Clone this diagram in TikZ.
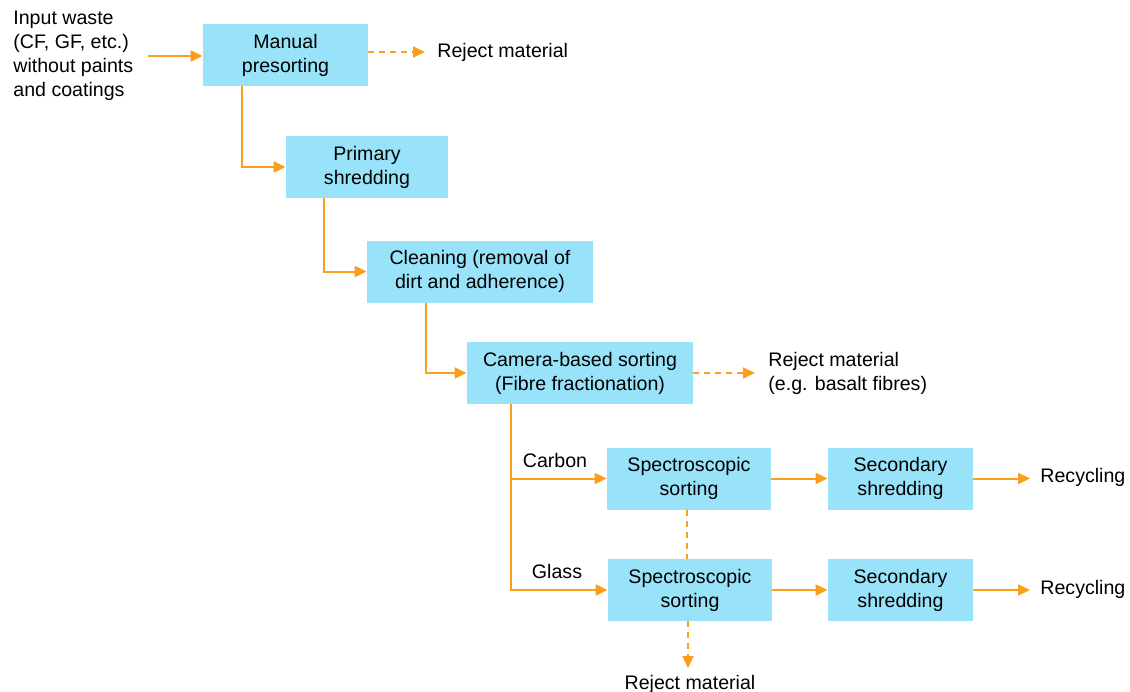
\documentclass[tikz,border=0pt]{standalone}
\usepackage{fontspec}
\setmainfont{Liberation Sans}
\usetikzlibrary{arrows.meta,calc}
\definecolor{boxblue}{RGB}{153,227,250}
\definecolor{flowor}{RGB}{250,158,28}
\begin{document}
\begin{tikzpicture}[x=0.5pt,y=-0.5pt,
  every node/.style={font=\fontsize{9.8}{12}\selectfont, text=black},
  procbox/.style={fill=boxblue, draw=none, align=center, inner sep=0pt, minimum height=31pt},
  lbl/.style={inner sep=0pt, align=left},
  flow/.style={draw=flowor, line width=1pt, -{Triangle[length=6pt,width=5.5pt]}},
  rejflow/.style={draw=flowor, line width=0.9pt, dash pattern=on 3pt off 2.5pt, -{Triangle[length=6pt,width=5.5pt]}},
  rejline/.style={draw=flowor, line width=0.9pt, dash pattern=on 3pt off 2.5pt}]
\useasboundingbox (0,0) rectangle (1130,691);

% process boxes
\node[procbox, minimum width=82.5pt] (manual) at (285.5,55) {Manual\\presorting};
\node[procbox, minimum width=81pt] (primary) at (367,167) {Primary\\shredding};
\node[procbox, minimum width=113pt] (clean) at (480,271.5) {Cleaning (removal of\\dirt and adherence)};
\node[procbox, minimum width=113pt] (camera) at (580,373) {Camera-based sorting\\(Fibre fractionation)};
\node[procbox, minimum width=82pt] (spec1) at (689,478.5) {Spectroscopic\\sorting};
\node[procbox, minimum width=72.5pt] (sec1) at (900.5,478.5) {Secondary\\shredding};
\node[procbox, minimum width=82pt] (spec2) at (690,590) {Spectroscopic\\sorting};
\node[procbox, minimum width=72.5pt] (sec2) at (900.5,590) {Secondary\\shredding};

% text labels
\node[lbl, anchor=west] (input) at (13,56) {Input waste\\(CF, GF, etc.)\\without paints\\and coatings};
\node[lbl, anchor=west] (rej1) at (437,52) {Reject material};
\node[lbl, anchor=west] (rej2) at (768,373) {Reject material\\(e.g. basalt fibres)};
\node[lbl] (carbon) at (555,460) {Carbon};
\node[lbl] (glass) at (557,571) {Glass};
\node[lbl, anchor=west] (rec1) at (1040,477) {Recycling};
\node[lbl, anchor=west] (rec2) at (1040,589) {Recycling};
\node[lbl] (rej3) at (690,684) {Reject material};
\coordinate (inend) at (148,56);
\coordinate (rej3top) at (688,668);

% connectors
\draw[flow] (inend) -- (inend -| manual.west);
\draw[rejflow] (manual.east |- rej1.west) -- ([xshift=-6pt]rej1.west);
\draw[flow] ([xshift=19.5pt]manual.south west) |- (primary.west);
\draw[flow] ([xshift=19pt]primary.south west) |- (clean.west);
\draw[flow] ([xshift=29.5pt]clean.south west) |- (camera.west);
\draw[rejflow] (camera.east) -- ([xshift=-6.5pt]camera.east -| rej2.west);
\draw[flow] ([xshift=22pt]camera.south west) |- (spec1.west);
\draw[flow] ([xshift=22pt]camera.south west) |- (spec2.west);
\draw[flow] (spec1.east) -- (sec1.west);
\draw[flow] (spec2.east) -- (sec2.west);
\draw[flow] (sec1.east) -- ([xshift=-5pt]sec1.east -| rec1.west);
\draw[flow] (sec2.east) -- ([xshift=-5pt]sec2.east -| rec2.west);
\draw[rejline] ([xshift=-1pt]spec1.south) -- ([xshift=-1pt]spec1.south |- spec2.north);
\draw[rejflow] ([xshift=-1pt]spec2.south) -- (rej3top);
\end{tikzpicture}
\end{document}
